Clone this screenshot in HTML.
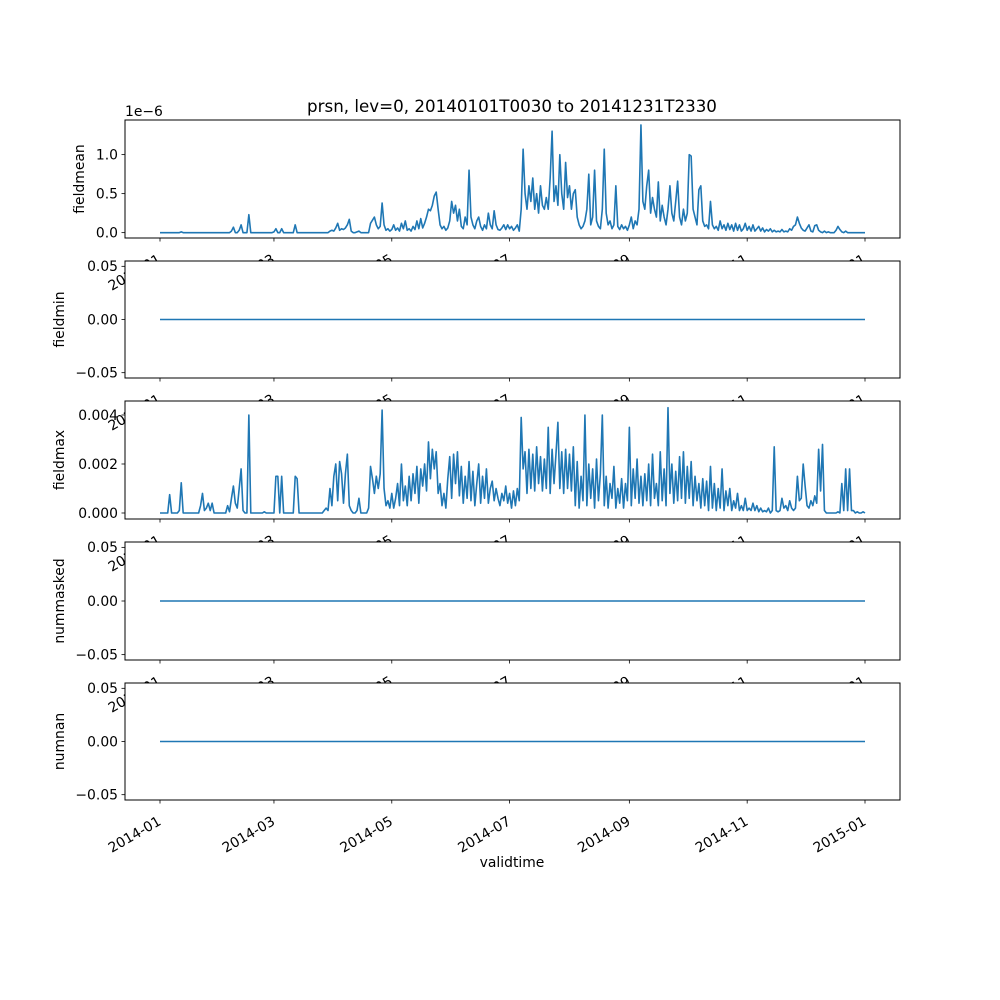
<!DOCTYPE html>
<html><head><meta charset="utf-8"><style>
html,body{margin:0;padding:0;background:#fff;}
svg{display:block;font-family:"DejaVu Sans","Liberation Sans",sans-serif;}
</style></head><body>
<svg id="chart" width="1000" height="1000" viewBox="0 0 1000 1000"></svg>
<script>
const xTickLabels = ["2014-01","2014-03","2014-05","2014-07","2014-09","2014-11","2015-01"];
const xTickDays = [0,59,120,181,243,304,365];
const panelNames = ["fieldmean","fieldmin","fieldmax","nummasked","numnan"];
const meanTicks = [0.0,0.5,1.0];
const meanTickLabels = ["0.0","0.5","1.0"];
const maxTicks = [0,0.002,0.004];
const maxTickLabels = ["0.000","0.002","0.004"];
const zeroTicks = [-0.05,0,0.05];
const zeroTickLabels = ["\u22120.05","0.00","0.05"];
// fieldmean daily values (x1e-6)
const fieldmean = [
0,0,0,0,0,0,0,0,0,0, 0,0.01,0,0,0,0,0,0,0,0, 0,0,0,0,0,0,0,0,0,0,
0,0,0,0,0,0,0,0.02,0.07,0, 0,0.03,0.1,0,0,0,0.23,0,0,0, 0,0,0,0,0,0,0,0,0,0.01,
0.05,0,0,0.05,0,0,0,0,0,0, 0.1,0,0,0,0,0,0,0,0,0, 0,0,0,0,0,0,0,0,0.02,0.03,
0.02,0.06,0.12,0.03,0.05,0.04,0.06,0.1,0.17,0.02, 0,0,0.01,0.02,0,0,0,0,0,0.12,
0.16,0.2,0.1,0.05,0.08,0.38,0.1,0.03,0.05,0.02, 0.04,0.1,0.03,0.06,0.02,0.12,0.05,0.15,0.03,0.05,
0.02,0.08,0.04,0.15,0.05,0.18,0.06,0.12,0.2,0.3, 0.28,0.35,0.47,0.52,0.3,0.1,0.05,0.08,0.03,0.06,
0.15,0.4,0.25,0.35,0.15,0.3,0.08,0.05,0.2,0.1, 0.8,0.2,0.1,0.05,0.15,0.2,0.08,0.03,0.1,0.05,
0.25,0.1,0.05,0.28,0.1,0.04,0.03,0.06,0.1,0.04, 0.1,0.05,0.08,0.03,0.06,0.1,0.02,0.3,1.07,0.5,
0.3,0.6,0.4,0.7,0.3,0.5,0.25,0.6,0.35,0.3, 0.45,0.3,0.7,1.3,0.4,0.6,0.35,1.0,0.5,0.3,
0.9,0.45,0.6,0.3,0.5,0.55,0.2,0.1,0.05,0.08, 0.15,0.3,0.75,0.1,0.2,0.8,0.15,0.08,0.05,0.3,
1.07,0.25,0.1,0.15,0.05,0.1,0.6,0.08,0.04,0.1, 0.05,0.08,0.03,0.1,0.2,0.05,0.15,0.1,0.3,1.38,
0.4,0.3,0.6,0.8,0.25,0.45,0.3,0.2,0.65,0.15, 0.35,0.2,0.1,0.3,0.6,0.25,0.15,0.4,0.66,0.2,
0.1,0.3,0.15,0.25,1.0,0.98,0.3,0.2,0.1,0.55, 0.6,0.15,0.08,0.1,0.05,0.4,0.1,0.05,0.08,0.03,
0.15,0.05,0.1,0.03,0.12,0.04,0.1,0.02,0.12,0.03, 0.1,0.02,0.05,0.12,0.03,0.08,0.02,0.1,0.02,0.05,
0.08,0.02,0.06,0.01,0.04,0.02,0.05,0.01,0.03,0.01, 0.02,0.01,0.04,0.01,0.02,0.01,0.05,0.03,0.08,0.1,
0.2,0.12,0.06,0.03,0.02,0.06,0.1,0.02,0.01,0.09, 0.1,0.03,0.01,0,0.02,0,0.01,0,0,0,
0.03,0.08,0.04,0.01,0,0.02,0,0,0,0, 0,0,0,0,0,0];
// fieldmax daily values (x1e-3)
const fieldmax = [
0,0,0,0,0,0.75,0,0,0,0, 0.1,1.23,0,0,0,0,0,0,0,0, 0,0.3,0.8,0.1,0.2,0.4,0.1,0.4,0,0,
0,0,0,0,0,0.3,0.05,0.6,1.1,0.4, 0.2,1.0,1.8,0.1,0,0,4.0,0,0,0, 0,0,0,0,0.05,0,0,0,0,0,
1.5,1.5,0,1.5,0,0,0,0,0,0, 1.5,1.4,0,0,0,0,0,0,0,0, 0,0,0,0,0,0.1,0.2,0.1,1.0,0.3,
1.5,2.0,0.5,2.1,1.6,0.4,1.6,2.4,0.3,0.1, 0,0,0.1,0.6,0,0,0,0,0.2,1.9,
1.4,0.8,1.5,1.0,1.6,4.2,1.0,0.3,0.5,0.2, 0.8,0.2,0.6,1.2,0.3,2.0,0.5,1.1,0.3,1.5,
0.5,1.6,0.8,1.9,0.4,1.8,1.1,2.0,0.9,2.9, 1.4,2.6,1.8,2.5,0.8,1.2,0.3,0.8,0.2,1.4,
2.3,0.6,2.4,1.2,2.5,0.7,1.9,0.4,1.5,0.6, 2.1,0.5,1.7,0.3,1.2,2.0,0.4,1.5,0.6,1.8,
0.4,1.0,1.3,0.5,1.0,0.6,0.3,0.8,0.5,1.1, 0.4,0.8,0.2,0.9,0.3,1.0,0.5,3.9,1.8,2.5,
0.8,2.6,1.0,2.4,0.9,2.7,1.2,2.3,0.9,2.2, 1.0,3.5,0.8,2.6,1.2,2.4,3.7,1.0,2.5,0.8,
2.6,1.0,2.4,0.9,2.7,0.3,2.1,0.2,1.5,0.5, 4.0,0.3,2.0,0.6,1.8,0.2,2.2,0.5,1.6,4.0,
0.3,1.5,0.2,1.2,0.6,1.9,0.2,1.0,0.4,1.4, 0.2,1.2,0.5,3.5,0.3,1.8,0.6,2.2,0.4,1.5,
0.3,1.6,0.5,2.0,0.3,2.4,0.6,1.2,0.3,2.5, 0.5,1.8,0.3,4.3,0.8,2.0,0.4,1.7,0.5,2.3,
0.6,2.5,0.4,1.9,0.6,2.1,0.3,1.5,0.5,1.2, 0.2,1.4,0.3,1.3,0.1,1.9,0.2,1.2,0.1,1.0,
0.2,1.8,0.1,0.9,0.3,1.0,0.1,0.5,0.2,0.8, 0.1,0.3,0.1,0.6,0.1,0.2,0.1,0.4,0.1,0.3,
0.05,0.2,0.05,0.1,0.05,0.2,0,0.1,2.7,0.1, 0.05,0.1,0.6,0.2,0.3,0.1,0.5,0.2,0.1,0.2,
1.5,0.5,0.6,2.0,1.1,0.3,0.2,0.5,0.3,0.7, 0.4,2.6,0.9,2.8,0.1,0,0,0,0,0,
0,0.05,0,1.2,0.1,1.8,0.1,1.8,0.1,0.1, 0,0.05,0,0,0.05,0];
const fieldmin = [0,0];
const nummasked = [0,0];
const numnan = [0,0];

const NS="http://www.w3.org/2000/svg";
const svg=document.getElementById('chart');
function mk(tag,attrs,parent){const e=document.createElementNS(NS,tag);for(const k in attrs)e.setAttribute(k,attrs[k]);(parent||svg).appendChild(e);return e;}
const L=125,R=900;
const xs=d=>160+(d/365)*705;
const panels=[
 {top:120,bot:238,vals:fieldmean,scale:1,ymin:-0.0687,ymax:1.4437,ticks:meanTicks,labs:meanTickLabels,off:"1e\u22126"},
 {top:261,bot:378,vals:fieldmin,scale:1,ymin:-0.055,ymax:0.055,ticks:zeroTicks,labs:zeroTickLabels},
 {top:401,bot:519,vals:fieldmax,scale:1e-3,ymin:-0.000245,ymax:0.004571,ticks:maxTicks,labs:maxTickLabels},
 {top:542,bot:660,vals:nummasked,scale:1,ymin:-0.055,ymax:0.055,ticks:zeroTicks,labs:zeroTickLabels},
 {top:683,bot:800,vals:numnan,scale:1,ymin:-0.055,ymax:0.055,ticks:zeroTicks,labs:zeroTickLabels}
];
mk('rect',{x:0,y:0,width:1000,height:1000,fill:'#fff'});
panels.forEach((p,i)=>{
 const g=mk('g',{});
 
 
 const ys=v=>p.bot-(v-p.ymin)/(p.ymax-p.ymin)*(p.bot-p.top);
 mk('rect',{x:L,y:p.top,width:R-L,height:p.bot-p.top,fill:'#fff'},g);
 let pts=[];
 if(p.vals.length===2){pts=[[xs(0),ys(p.vals[0]*p.scale)],[xs(365),ys(p.vals[1]*p.scale)]];}
 else p.vals.forEach((v,d)=>pts.push([xs(d),ys(v*p.scale)]));
 const line=mk('polyline',{points:pts.map(q=>q[0].toFixed(2)+','+q[1].toFixed(2)).join(' '),fill:'none',stroke:'#1f77b4','stroke-width':1.6,'stroke-linejoin':'round'},g);
 
 
 mk('rect',{x:L,y:p.top,width:R-L,height:p.bot-p.top,fill:'none',stroke:'#000','stroke-width':1},g);
 p.ticks.forEach((t,j)=>{
  const y=ys(t);
  mk('line',{x1:L-3.5,x2:L,y1:y,y2:y,stroke:'#000','stroke-width':0.8},g);
  const tx=mk('text',{x:L-7,y:y+4.8,'text-anchor':'end','font-size':13.9,fill:'#000'},g);
  tx.textContent=p.labs[j];
  
  
 });
 if(p.off){const o=mk('text',{x:L,y:p.top-4,'font-size':13.9,fill:'#000'},g);o.textContent=p.off;
  
  }
 const yl=mk('text',{x:0,y:0,'text-anchor':'middle','font-size':13.9,fill:'#000',transform:`translate(${i===0?84:64},${(p.top+p.bot)/2}) rotate(-90)`},g);
 yl.textContent=panelNames[i];
 
 
 xTickDays.forEach((d,j)=>{
  const x=xs(d);
  mk('line',{x1:x,x2:x,y1:p.bot,y2:p.bot+3.5,stroke:'#000','stroke-width':0.8},g);
  const tx=mk('text',{x:0,y:0,'text-anchor':'end','font-size':13.9,fill:'#000',transform:`translate(${x+2},${p.bot+24}) rotate(-30)`},g);
  tx.textContent=xTickLabels[j];
  
  
 });
});
const title=mk('text',{x:512,y:112,'text-anchor':'middle','font-size':16.7,fill:'#000'});
title.textContent="prsn, lev=0, 20140101T0030 to 20141231T2330";


const xl=mk('text',{x:512,y:867,'text-anchor':'middle','font-size':13.9,fill:'#000'});
xl.textContent="validtime";


</script>
</body></html>
